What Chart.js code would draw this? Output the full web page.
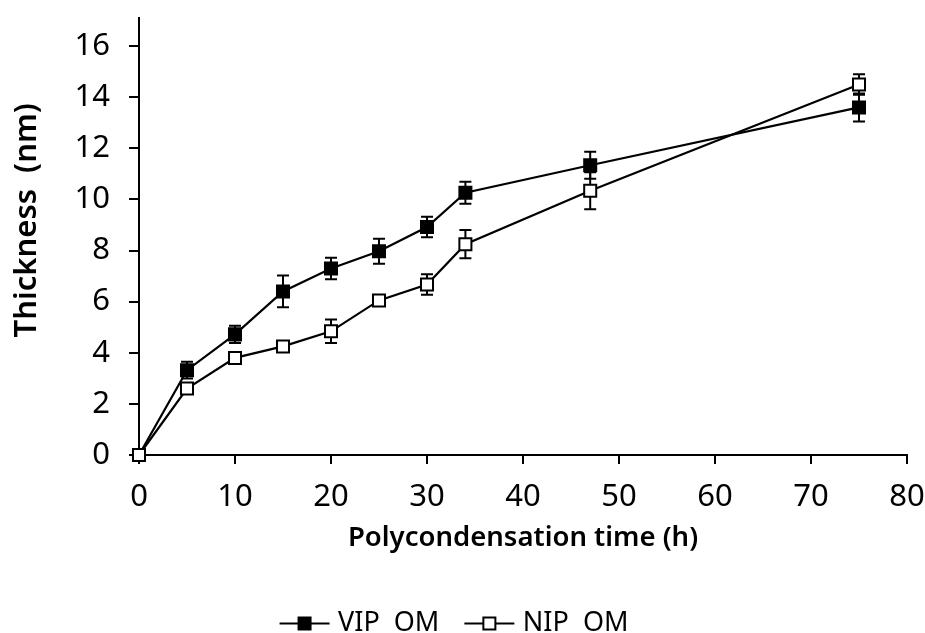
<!DOCTYPE html>
<html lang="en">
<head>
  <meta charset="UTF-8" />
  <title>Thickness vs Polycondensation Time</title>
  <script src="https://cdn.jsdelivr.net/npm/chart.js"></script>
  <style>
    html, body {
      margin: 0;
      padding: 0;
      background: #ffffff;
    }

    .wrap {
      width: 925px;
      height: 633px;
    }
  </style>
</head>
<body>
  <div class="wrap">
    <canvas id="thicknessChart" width="925" height="633"></canvas>
  </div>

  <script>
    // polycondensation time (h)
    const times = [0, 5, 10, 15, 20, 25, 30, 34, 47, 75];

    // film thickness (nm) and standard deviations
    const vipThickness = [0, 3.32, 4.72, 6.4, 7.3, 7.97, 8.92, 10.26, 11.34, 13.6];
    const vipError = [0, 0.33, 0.34, 0.62, 0.42, 0.49, 0.4, 0.43, 0.53, 0.55];

    const nipThickness = [0, 2.6, 3.8, 4.25, 4.84, 6.05, 6.67, 8.25, 10.34, 14.5];
    const nipError = [0, 0.1, 0.1, 0.1, 0.46, 0.1, 0.4, 0.55, 0.72, 0.4];

    const xTicks = [0, 10, 20, 30, 40, 50, 60, 70, 80];
    const yTicks = [0, 2, 4, 6, 8, 10, 12, 14, 16];

    const FONT = "'Noto Sans', 'DejaVu Sans', sans-serif";

    // legend icon: short line with the marker in the middle
    function makeIcon(fill) {
      const c = document.createElement("canvas");
      c.width = 60;
      c.height = 16;
      const g = c.getContext("2d");
      g.strokeStyle = "#000";
      g.lineWidth = 2;
      g.beginPath();
      g.moveTo(8, 8);
      g.lineTo(58, 8);
      g.stroke();
      g.fillStyle = fill;
      g.fillRect(27, 2, 12, 12);
      g.strokeRect(27, 2, 12, 12);
      return c;
    }

    // vertical error bars with caps, drawn under the markers
    const errorBars = {
      id: "errorBars",
      beforeDatasetsDraw(chart) {
        const { ctx, scales: { x, y } } = chart;
        ctx.save();
        ctx.strokeStyle = "#000";
        ctx.lineWidth = 2;
        chart.data.datasets.forEach(ds => {
          ds.data.forEach((pt, i) => {
            const err = ds.errors[i];
            if (!err) return;
            const px = x.getPixelForValue(pt.x);
            const top = y.getPixelForValue(pt.y + err);
            const bot = y.getPixelForValue(pt.y - err);
            ctx.beginPath();
            ctx.moveTo(px, top);
            ctx.lineTo(px, bot);
            ctx.moveTo(px - 6, top);
            ctx.lineTo(px + 6, top);
            ctx.moveTo(px - 6, bot);
            ctx.lineTo(px + 6, bot);
            ctx.stroke();
          });
        });
        ctx.restore();
      }
    };

    const toPoints = vals => times.map((t, i) => ({ x: t, y: vals[i] }));

    new Chart(document.getElementById("thicknessChart"), {
      type: "line",
      data: {
        datasets: [
          {
            label: "VIP  OM",
            data: toPoints(vipThickness),
            errors: vipError,
            borderColor: "#000",
            borderWidth: 2.2,
            pointStyle: "rect",
            pointRadius: 8.5,
            pointBorderWidth: 2,
            pointBackgroundColor: "#000",
            pointBorderColor: "#000",
            clip: false,
            order: 2,
            icon: makeIcon("#000")
          },
          {
            label: "NIP  OM",
            data: toPoints(nipThickness),
            errors: nipError,
            borderColor: "#000",
            borderWidth: 2.2,
            pointStyle: "rect",
            pointRadius: 8.5,
            pointBorderWidth: 2,
            pointBackgroundColor: "#fff",
            pointBorderColor: "#000",
            clip: false,
            order: 1,
            icon: makeIcon("#fff")
          }
        ]
      },
      options: {
        responsive: false,
        animation: false,
        layout: {
          padding: { top: 18, right: 18, left: 0, bottom: -14 }
        },
        scales: {
          x: {
            type: "linear",
            min: 0,
            max: 80,
            afterBuildTicks: s => { s.ticks = xTicks.map(v => ({ value: v })); },
            afterFit: s => {
              s.height = 131;
              s.paddingLeft = 0;
              s.paddingRight = 0;
            },
            grid: { drawOnChartArea: false, color: "#000", lineWidth: 2, tickLength: 9 },
            border: { color: "#000", width: 2 },
            ticks: { color: "#000", padding: 15, font: { family: FONT, size: 31 } },
            title: {
              display: true,
              text: "Polycondensation time (h)",
              color: "#000",
              font: { family: FONT, size: 27.5, weight: "600" },
              padding: { top: 4, bottom: 31 }
            }
          },
          y: {
            min: 0,
            max: 17.1,
            afterBuildTicks: s => { s.ticks = yTicks.map(v => ({ value: v })); },
            afterFit: s => {
              s.width = 139;
              s.paddingTop = 0;
              s.paddingBottom = 0;
            },
            grid: { drawOnChartArea: false, color: "#000", lineWidth: 2, tickLength: 10 },
            border: { color: "#000", width: 2 },
            ticks: { color: "#000", padding: 19, font: { family: FONT, size: 31 } },
            title: {
              display: true,
              text: "    Thickness  (nm)",
              color: "#000",
              font: { family: FONT, size: 31, weight: "600" },
              padding: { top: 9, bottom: 0 }
            }
          }
        },
        plugins: {
          legend: {
            position: "bottom",
            labels: {
              color: "#000",
              font: { family: FONT, size: 27 },
              usePointStyle: true,
              pointStyleWidth: 46,
              padding: 24,
              sort: (a, b) => a.datasetIndex - b.datasetIndex,
              generateLabels(chart) {
                return chart.data.datasets.map((ds, i) => ({
                  text: ds.label,
                  datasetIndex: i,
                  pointStyle: ds.icon,
                  fontColor: "#000",
                  lineWidth: 0,
                  strokeStyle: "transparent",
                  fillStyle: "transparent",
                  hidden: false
                }));
              }
            }
          },
          tooltip: { enabled: false }
        }
      },
      plugins: [errorBars]
    });
  </script>
</body>
</html>
